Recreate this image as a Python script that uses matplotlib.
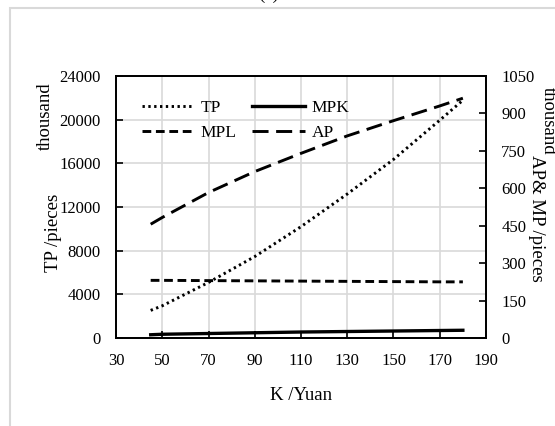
import matplotlib
matplotlib.use("Agg")
import matplotlib.pyplot as plt
from matplotlib.patches import Rectangle

plt.rcParams['font.family'] = ['Liberation Serif', 'DejaVu Serif']

# capital K (Yuan)
K = [45, 50, 70, 90, 110, 130, 150, 170, 180]
# total product, thousand pieces (left axis)
TP = [2530, 2950, 5090, 7460, 10200, 13190, 16360, 19950, 21780]
# right axis, thousand pieces
MPK = [13, 15, 18, 21, 24, 26, 28, 30, 31]
MPL = [231, 231, 230, 229, 228, 227, 226, 225, 225]
AP = [456, 483, 583, 667, 740, 810, 871, 930, 961]

xticks = [30, 50, 70, 90, 110, 130, 150, 170, 190]
yticks_left = [0, 4000, 8000, 12000, 16000, 20000, 24000]
yticks_right = [0, 150, 300, 450, 600, 750, 900, 1050]

fig = plt.figure(figsize=(5.55, 4.26), dpi=100)
ax = fig.add_axes([116/555, 1-338/426, 370/555, 262/426])
ax2 = ax.twinx()

lw = 2.1
l_tp, = ax.plot(K, TP, color='black', lw=lw, linestyle=(0, (0.8, 1.2)), label='TP')
l_mpk, = ax2.plot(K, MPK, color='black', lw=lw + 0.3, linestyle='-', label='MPK')
l_mpl, = ax2.plot(K, MPL, color='black', lw=lw, linestyle=(0, (3, 1.6)), label='MPL')
l_ap, = ax2.plot(K, AP, color='black', lw=lw, linestyle=(0, (5.5, 2.6)), label='AP')

ax.set_xlim(30, 190)
ax.set_ylim(0, 24000)
ax2.set_ylim(0, 1050)
ax.set_xticks(xticks)
ax.set_yticks(yticks_left)
ax2.set_yticks(yticks_right)

ax.grid(True, color='#d9d9d9', lw=1.2)
ax.set_axisbelow(True)

for a in (ax, ax2):
    for s in a.spines.values():
        s.set_linewidth(1.3)
        s.set_color('black')
ax.tick_params(direction='in', length=5, width=1.2, labelsize=12, pad=11)
ax2.tick_params(direction='in', length=5, width=1.2, labelsize=12, pad=11)

leg = ax.legend([l_tp, l_mpl, l_mpk, l_ap], ['TP', 'MPL', 'MPK', 'AP'],
                ncol=2, frameon=False, loc='upper left',
                bbox_to_anchor=(0.07, 0.91), borderpad=0, borderaxespad=0,
                handlelength=3.0, handletextpad=0.4, columnspacing=0.9,
                labelspacing=0.55, fontsize=12.5)

fig.text(45/555, 1-116/426, 'thousand', rotation=90, ha='center', va='center', fontsize=13.5)
fig.text(53/555, 1-233/426, 'TP /pieces', rotation=90, ha='center', va='center', fontsize=13.5)
fig.text(548/555, 1-121/426, 'thousand', rotation=270, ha='center', va='center', fontsize=13.5)
fig.text(536/555, 1-218/426, 'AP& MP /pieces', rotation=270, ha='center', va='center', fontsize=13.5)
fig.text(301/555, 1-395/426, 'K /Yuan', ha='center', va='center', fontsize=13.5)
fig.text(269/555, 1 + 1.5/426, '(a)', ha='center', va='baseline', fontsize=13.5)

fig.patches.append(Rectangle((10/555, -0.1), 1.2, 1 - 8/426 + 0.1,
                             transform=fig.transFigure, fill=False,
                             edgecolor='#d9d9d9', lw=1.5))

fig.savefig('out.png', dpi=100)
